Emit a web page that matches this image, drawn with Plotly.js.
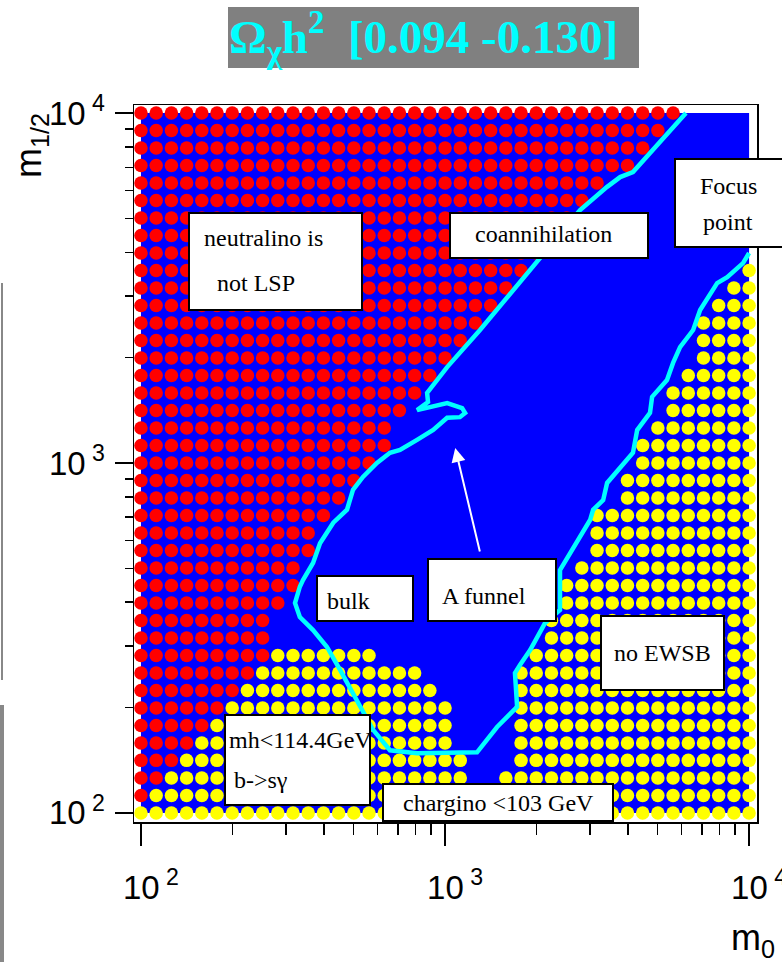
<!DOCTYPE html>
<html>
<head>
<meta charset="utf-8">
<script src="https://cdn.plot.ly/plotly-3.0.1.min.js"></script>
<style>html,body{margin:0;padding:0;background:#fff;}#chart{width:782px;height:962px;}</style>
</head>
<body>
<div id="chart"></div>
<script>
// ---- scan grid (m0, m1/2 in GeV), log-spaced points ----
const m0Grid  = [100,112.2,125.9,141.3,158.5,177.8,199.5,223.9,251.2,281.8,316.2,354.8,398.1,446.7,501.2,562.3,631,707.9,794.3,891.3,1000,1122,1259,1413,1585,1778,1995,2239,2512,2818,3162,3548,3981,4467,5012,5623,6310,7079,7943,8913,10000];
const m12Grid = [100,112.2,125.9,141.3,158.5,177.8,199.5,223.9,251.2,281.8,316.2,354.8,398.1,446.7,501.2,562.3,631,707.9,794.3,891.3,1000,1122,1259,1413,1585,1778,1995,2239,2512,2818,3162,3548,3981,4467,5012,5623,6310,7079,7943,8913,10000];

// per m1/2 row (bottom to top): last m0 index excluded because neutralino is not LSP (red)
const redLast = [-1,0,1,2,3,4,5,6,7,8,8,8,9,10,10,11,11,12,13,14,15,16,16,17,18,19,20,21,22,23,24,25,26,27,28,29,30,32,33,34,35];
// per row: last m0 index of the low-m1/2 excluded band (mh, b->s gamma, chargino) (yellow), -1 = none
const yellowLowEnd = [40,40,21,21,20,20,20,19,18,15,-1,-1,-1,-1,-1,-1,-1,-1,-1,-1,-1,-1,-1,-1,-1,-1,-1,-1,-1,-1,-1,-1,-1,-1,-1,-1,-1,-1,-1,-1,-1];
// per row: first m0 index of the no-EWSB band (yellow), 41 = none
const yellowRightStart = [41,41,24,25,25,25,25,25,25,26,27,27,28,28,29,30,30,30,32,32,33,33,34,35,35,36,37,37,37,38,39,40,41,41,41,41,41,41,41,41,41];

// scanned domain (blue = allowed)
const domainM0  = [100,10000,10000,100,100];
const domainM12 = [100,100,10000,10000,100];

// WMAP-allowed contour (cyan)
const contourM0  = [6200,4150,3767,3412,2780,2009,1675,1303,1016,873,879,809,1016,1138,1164,1119,1016,914,809,711,659,597,537,498,476,429,388,368,341,333,321,333,368,409,452,498,537,579,659,809,1274,1483,1726,1698,1766,1905,2133,2388,2388,2999,3069,3311,3412,4150,4285,4721,4797,5370,5623,5929,6546,6902,7852,8472,9550,10000];
const contourM12 = [10000,6780,6561,6152,5284,3750,3119,2399,1879,1585,1493,1416,1483,1435,1390,1352,1346,1242,1164,1089,1069,1000,912,838,735,675,590,518,463,443,398,363,333,298,256,220,197,173,151,148,149,176,201,251,265,292,349,380,494,687,735,783,877,1069,1242,1390,1545,1726,1932,2143,2399,2735,3266,3396,3724,3981];

// A-funnel arrow tip
const arrowTip = {m0: 1080, m12: 1104};

const tickVals = [100,1000,10000];
const tickText = ['10<sup>\u00a02</sup>','10<sup>\u00a03</sup>','10<sup>\u00a04</sup>'];
const minorVals = [200,300,400,500,600,700,800,900,2000,3000,4000,5000,6000,7000,8000,9000];

// ---- build dot lists ----
const redX=[],redY=[],yelX=[],yelY=[];
for (let j=0;j<m12Grid.length;j++){
  for (let i=0;i<m0Grid.length;i++){
    if (i<=redLast[j]) {redX.push(m0Grid[i]);redY.push(m12Grid[j]);}
    else if (i<=yellowLowEnd[j] || i>=yellowRightStart[j]) {yelX.push(m0Grid[i]);yelY.push(m12Grid[j]);}
  }
}

const traces = [
  {x:domainM0,y:domainM12,type:'scatter',mode:'lines',fill:'toself',fillcolor:'#0000ff',line:{width:0,color:'#0000ff'},hoverinfo:'skip'},
  {x:redX,y:redY,type:'scatter',mode:'markers',marker:{color:'#ff0000',size:13.5,line:{width:0}},hoverinfo:'skip',cliponaxis:false},
  {x:yelX,y:yelY,type:'scatter',mode:'markers',marker:{color:'#ffff00',size:13.5,line:{width:0}},hoverinfo:'skip',cliponaxis:false},
  {x:contourM0,y:contourM12,type:'scatter',mode:'lines',line:{color:'#00ffff',width:4.5},hoverinfo:'skip'}
];

// pixel -> paper helpers (plot area 134..757 x 105..822)
const L=134,R=757,T=105,B=822;
const PX=p=>(p-L)/(R-L);
const PY=p=>(B-p)/(B-T);

function box(x0,y0,x1,y1){
  return {type:'rect',xref:'paper',yref:'paper',x0:PX(x0),x1:PX(x1),y0:PY(y1),y1:PY(y0),
          fillcolor:'white',line:{color:'black',width:2},layer:'above'};
}
const serif = {family:'Liberation Serif, Times New Roman, serif',size:24,color:'black'};
function txt(t,x,y,anchor){
  return {text:t,xref:'paper',yref:'paper',x:PX(x),y:PY(y),xanchor:anchor||'center',yanchor:'middle',showarrow:false,font:serif};
}

const shapes = [
  {type:'rect',xref:'paper',yref:'paper',x0:PX(228),x1:PX(639),y0:PY(68),y1:PY(7),fillcolor:'#808080',line:{width:0}},
  box(189,213,362,310),
  box(450,213,648,258),
  box(675,159,800,247),
  box(317,576,413,621),
  box(428,559,556,621),
  box(601,616,724,690),
  box(225,715,370,805),
  box(383,784,613,821),
  {type:'line',xref:'paper',yref:'paper',x0:PX(2),x1:PX(2),y0:PY(283),y1:PY(680),line:{color:'#888',width:2}},
  {type:'rect',xref:'paper',yref:'paper',x0:PX(0),x1:PX(4),y0:PY(962),y1:PY(705),fillcolor:'#888',line:{width:0}}
];

const annotations = [
  {text:'<b>\u03a9<sub>\u03c7</sub>h<sup>2</sup>\u00a0 [0.094 -0.130]</b>',xref:'paper',yref:'paper',x:PX(227),y:PY(37),xanchor:'left',yanchor:'middle',showarrow:false,
   font:{family:'Liberation Serif, Times New Roman, serif',size:47,color:'#00ffff'}},
  txt('neutralino is',202,238,'left'),
  txt('not LSP',215,283,'left'),
  txt('coannihilation',543,234),
  txt('Focus',728,186),
  txt('point',728,222),
  txt('bulk',348,601),
  txt('A funnel',484,596),
  txt('no EWSB',662,653),
  txt('mh<114.4GeV',227,740,'left'),
  txt('b->s\u03b3',232,780,'left'),
  txt('chargino <103 GeV',498,803),
  {text:'m<sub>1/2</sub>',xref:'paper',yref:'paper',x:PX(31),y:PY(146),xanchor:'center',yanchor:'middle',textangle:-90,showarrow:false,
   font:{family:'Liberation Sans, Arial, sans-serif',size:36,color:'black'}},
  {text:'m<sub>0</sub>',xref:'paper',yref:'paper',x:PX(753),y:PY(940),xanchor:'center',yanchor:'middle',showarrow:false,
   font:{family:'Liberation Sans, Arial, sans-serif',size:36,color:'black'}},
  {text:'',xref:'x',yref:'y',x:Math.log10(arrowTip.m0),y:Math.log10(arrowTip.m12),showarrow:true,ax:25,ay:105,
   arrowcolor:'white',arrowwidth:2,arrowhead:2,arrowsize:1.4,standoff:0}
];

const tickFont = {family:'Liberation Sans, Arial, sans-serif',size:33,color:'black'};
const layout = {
  width:782,height:962,
  margin:{l:L,r:782-R,t:T,b:962-B,pad:0},
  paper_bgcolor:'white',plot_bgcolor:'white',showlegend:false,
  xaxis:{type:'log',range:[1.977,4.026],showline:true,mirror:true,linecolor:'black',linewidth:1.5,
    showgrid:false,zeroline:false,ticks:'outside',ticklen:22,tickwidth:1.5,tickcolor:'black',
    tickmode:'array',tickvals:tickVals,ticktext:tickText,tickfont:tickFont,ticklabelstandoff:14,ticklabelshift:10,
    ticklabeloverflow:'allow',
    minor:{tickmode:'array',tickvals:minorVals,ticks:'outside',ticklen:11,tickwidth:1.5,tickcolor:'black',showgrid:false}},
  yaxis:{type:'log',range:[1.974,4.023],showline:true,mirror:true,linecolor:'black',linewidth:1.5,
    showgrid:false,zeroline:false,ticks:'outside',ticklen:18,tickwidth:1.5,tickcolor:'black',
    tickmode:'array',tickvals:tickVals,ticktext:tickText,tickfont:tickFont,ticklabelstandoff:3,ticklabeloverflow:'allow',
    minor:{tickmode:'array',tickvals:minorVals,ticks:'outside',ticklen:8,tickwidth:1.5,tickcolor:'black',showgrid:false}},
  shapes:shapes,annotations:annotations
};
Plotly.newPlot('chart',traces,layout,{staticPlot:true,displayModeBar:false});
</script>
</body>
</html>
